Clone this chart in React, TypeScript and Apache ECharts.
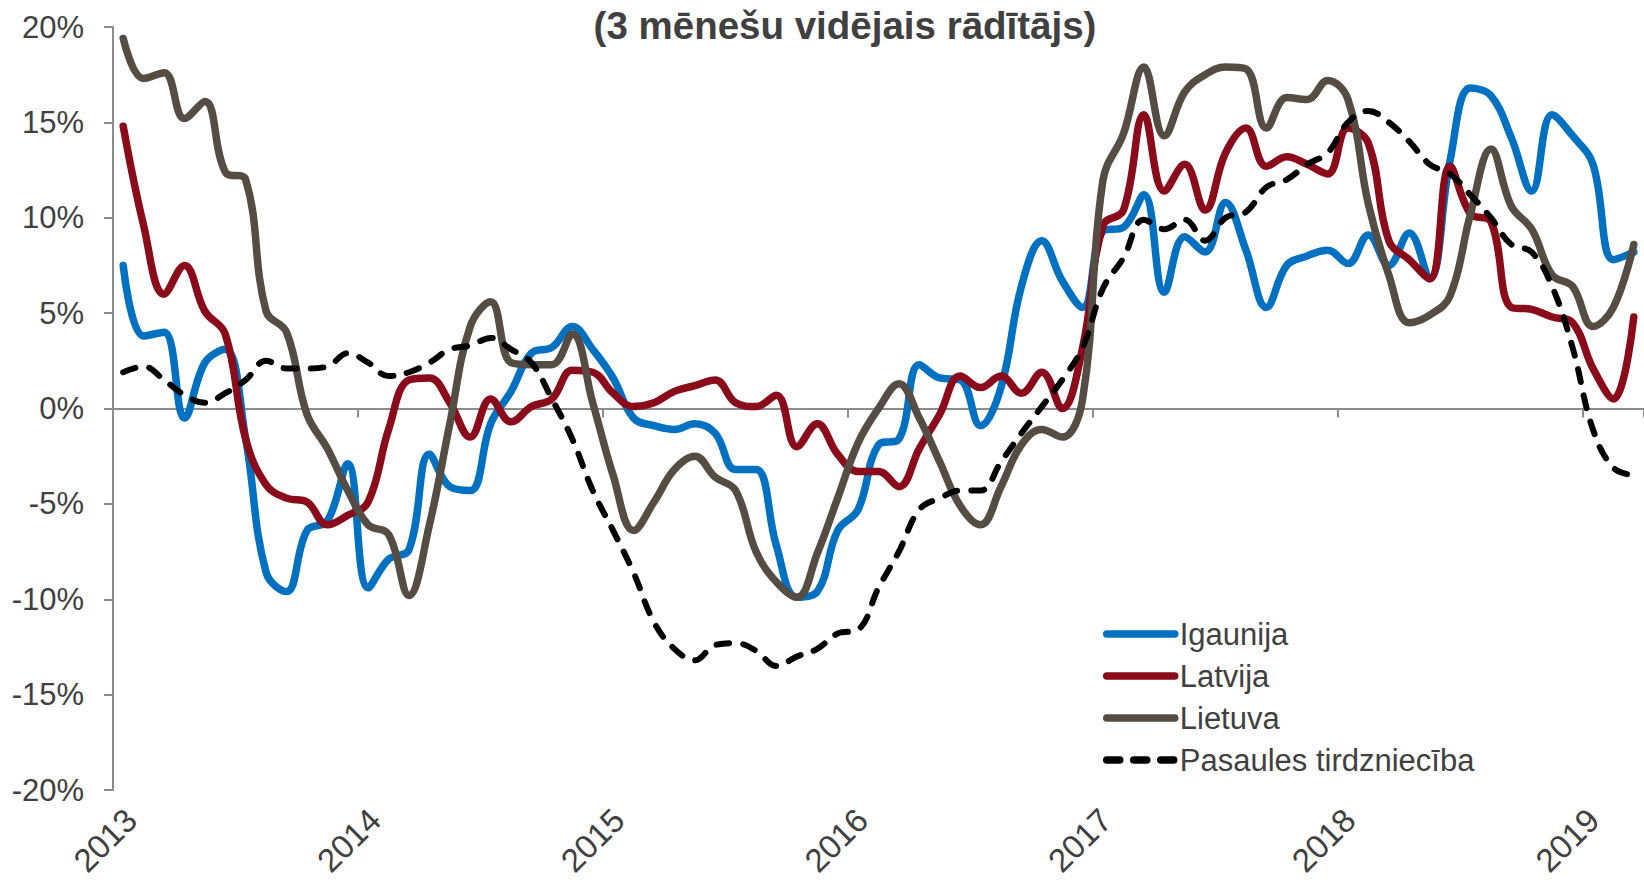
import React, { useEffect, useRef } from "react";
import * as echarts from "echarts";

const years = ["2013", "2014", "2015", "2016", "2017", "2018", "2019"];
const monthCount = 75;

const igaunija = [
  7.5, 3.8, 4.0, -0.5, 2.4, 3.1, -1.6, -8.6, -9.6, -6.4, -5.9, -2.9,
  -9.4, -7.9, -7.4, -2.4, -4.1, -4.3, -0.8, 0.9, 2.9, 3.2, 4.3, 3.1,
  1.6, -0.5, -0.9, -1.1, -0.8, -1.3, -3.2, -3.2, -7.2, -9.9, -9.6, -6.4,
  -5.3, -1.9, -1.6, 2.3, 1.6, 1.5, -0.9, 1.1, 6.4, 8.8, 6.7, 5.3,
  9.3, 9.5, 11.2, 6.1, 9.0, 8.2, 10.8, 8.3, 5.3, 7.5, 8.0, 8.3,
  7.6, 9.1, 7.5, 9.2, 6.8, 13.0, 16.8, 16.4, 14.2, 11.4, 15.4, 14.3,
  12.8, 7.8, 8.2,
];

const latvija = [
  14.8, 9.6, 6.0, 7.5, 5.1, 3.9, -1.6, -4.0, -4.7, -4.9, -6.1, -5.6,
  -4.9, -1.1, 1.5, 1.6, 0.3, -1.5, 0.5, -0.7, 0.1, 0.5, 2.0, 1.9,
  0.8, 0.1, 0.3, 0.9, 1.2, 1.5, 0.3, 0.1, 0.7, -2.0, -0.8, -2.4,
  -3.3, -3.3, -4.1, -2.1, -0.3, 1.7, 1.1, 1.7, 0.8, 1.9, 0.0, 3.2,
  9.6, 10.4, 15.4, 11.4, 12.8, 10.4, 13.4, 14.7, 12.7, 13.2, 12.8, 12.3,
  14.7, 13.9, 8.8, 7.8, 6.8, 12.7, 10.2, 9.8, 5.3, 5.2, 4.8, 4.5,
  2.1, 0.5, 4.8,
];

const lietuva = [
  19.4, 17.3, 17.6, 15.2, 16.1, 12.4, 12.0, 5.1, 4.0, -0.3, -2.1, -4.3,
  -6.1, -6.6, -9.8, -6.1, -0.8, 4.3, 5.6, 2.4, 2.3, 2.3, 3.9, 0.3,
  -3.5, -6.4, -4.9, -3.2, -2.5, -3.6, -4.3, -7.5, -9.1, -9.9, -7.6, -4.7,
  -1.8, 0.0, 1.3, -0.5, -2.8, -5.1, -6.1, -4.1, -1.9, -1.1, -1.5, 0.5,
  12.0, 14.4, 17.9, 14.3, 16.6, 17.5, 17.9, 17.8, 14.7, 16.3, 16.2, 17.2,
  16.2, 10.7, 7.0, 4.5, 4.9, 5.9, 10.2, 13.6, 10.6, 9.4, 7.0, 6.4,
  4.3, 5.3, 8.6,
];

const pasaule = [
  1.9, 2.2, 1.5, 0.7, 0.3, 0.8, 1.5, 2.5, 2.1, 2.1, 2.2, 2.9,
  2.4, 1.7, 1.9, 2.4, 3.1, 3.3, 3.7, 3.1, 2.4, 0.5, -1.6, -4.3,
  -6.4, -8.6, -11.2, -12.6, -13.2, -12.4, -12.3, -12.7, -13.5, -13.0, -12.6, -11.8,
  -11.6, -9.4, -7.5, -5.3, -4.7, -4.3, -4.3, -2.8, -1.3, 0.1, 1.5, 3.2,
  6.3, 7.9, 9.9, 9.4, 9.9, 8.8, 10.0, 10.3, 11.6, 12.0, 12.8, 13.4,
  15.0, 15.6, 15.0, 14.0, 12.8, 12.3, 11.2, 10.0, 8.6, 8.2, 6.4, 3.2,
  -1.1, -3.1, -3.5,
];

const seriesNames = ["Igaunija", "Latvija", "Lietuva", "Pasaules tirdzniecība"];
const yTicks = [-20, -15, -10, -5, 0, 5, 10, 15, 20];
const subtitle = "(3 mēnešu vidējais rādītājs)";

const months: string[] = [];
years.forEach((y) => {
  for (let m = 1; m <= 12; m++) months.push(`${y}-${m < 10 ? "0" + m : m}`);
});
const categories = months.slice(0, monthCount);

const FONT = '"Liberation Sans", Arial, sans-serif';
const AXIS = "#8c8c8c";
const TEXT = "#404040";

export default function App() {
  const ref = useRef<HTMLDivElement>(null);

  useEffect(() => {
    if (!ref.current) return;
    const chart = echarts.init(ref.current, undefined, { renderer: "svg" });
    const lineBase = { type: "line", smooth: 0.4, symbol: "none", showSymbol: false, xAxisIndex: 0, yAxisIndex: 0 };
    chart.setOption({
      animation: false,
      textStyle: { fontFamily: FONT },
      grid: [
        { left: 113, top: 27, width: 1545, height: 763 },
        { left: 121, top: 27, width: 1545, height: 763 },
      ],
      graphic: [
        {
          type: "text",
          x: 845,
          y: 25,
          style: {
            text: subtitle,
            textAlign: "center",
            textVerticalAlign: "middle",
            font: `bold 38.5px ${FONT}`,
            fill: TEXT,
          },
        },
      ],
      legend: {
        orient: "vertical",
        left: 1103,
        top: 617,
        padding: 0,
        itemWidth: 68,
        itemHeight: 10,
        itemGap: 8,
        data: seriesNames,
        lineStyle: { width: 7.5 },
        itemStyle: { opacity: 0, borderWidth: 0 },
        textStyle: { fontSize: 31, color: TEXT, fontFamily: FONT, lineHeight: 34 },
      },
      xAxis: [
        {
          type: "category",
          gridIndex: 0,
          data: categories,
          boundaryGap: true,
          axisLine: { onZero: true, lineStyle: { color: AXIS, width: 2 } },
          axisTick: { show: true, interval: 11, length: 9, lineStyle: { color: AXIS, width: 2 } },
          axisLabel: { show: false },
          splitLine: { show: false },
        },
        {
          type: "category",
          gridIndex: 1,
          data: categories,
          position: "bottom",
          boundaryGap: true,
          axisLine: { show: false, onZero: false },
          axisTick: { show: false },
          splitLine: { show: false },
          axisLabel: {
            interval: 11,
            rotate: 45,
            margin: 40,
            fontSize: 33,
            color: TEXT,
            fontFamily: FONT,
            formatter: (v: string) => v.slice(0, 4),
          },
        },
      ],
      yAxis: [
        {
          type: "value",
          gridIndex: 0,
          min: yTicks[0],
          max: yTicks[yTicks.length - 1],
          interval: 5,
          axisLine: { show: true, lineStyle: { color: AXIS, width: 2 } },
          axisTick: { show: true, length: 9, lineStyle: { color: AXIS, width: 2 } },
          splitLine: { show: false },
          axisLabel: {
            margin: 29,
            fontSize: 31,
            color: TEXT,
            fontFamily: FONT,
            formatter: (v: number) => `${v}%`,
          },
        },
        {
          type: "value",
          gridIndex: 1,
          min: yTicks[0],
          max: yTicks[yTicks.length - 1],
          interval: 5,
          show: false,
        },
      ],
      series: [
        {
          ...lineBase,
          name: seriesNames[0],
          data: igaunija,
          lineStyle: { color: "#0070c0", width: 7.5, cap: "round", join: "round" },
          itemStyle: { color: "#0070c0" },
        },
        {
          ...lineBase,
          name: seriesNames[1],
          data: latvija,
          lineStyle: { color: "#8a0b1a", width: 7.5, cap: "round", join: "round" },
          itemStyle: { color: "#8a0b1a" },
        },
        {
          ...lineBase,
          name: seriesNames[2],
          data: lietuva,
          lineStyle: { color: "#554d43", width: 7.5, cap: "round", join: "round" },
          itemStyle: { color: "#554d43" },
        },
        {
          ...lineBase,
          name: seriesNames[3],
          data: pasaule,
          lineStyle: { color: "#000000", width: 6, type: [13, 14], cap: "round", join: "round" },
          itemStyle: { color: "#000000" },
        },
      ],
    });
    return () => chart.dispose();
  }, []);

  return (
    <div
      ref={ref}
      style={{ position: "absolute", left: 0, top: 0, width: 1644, height: 880, background: "#fff" }}
    />
  );
}
